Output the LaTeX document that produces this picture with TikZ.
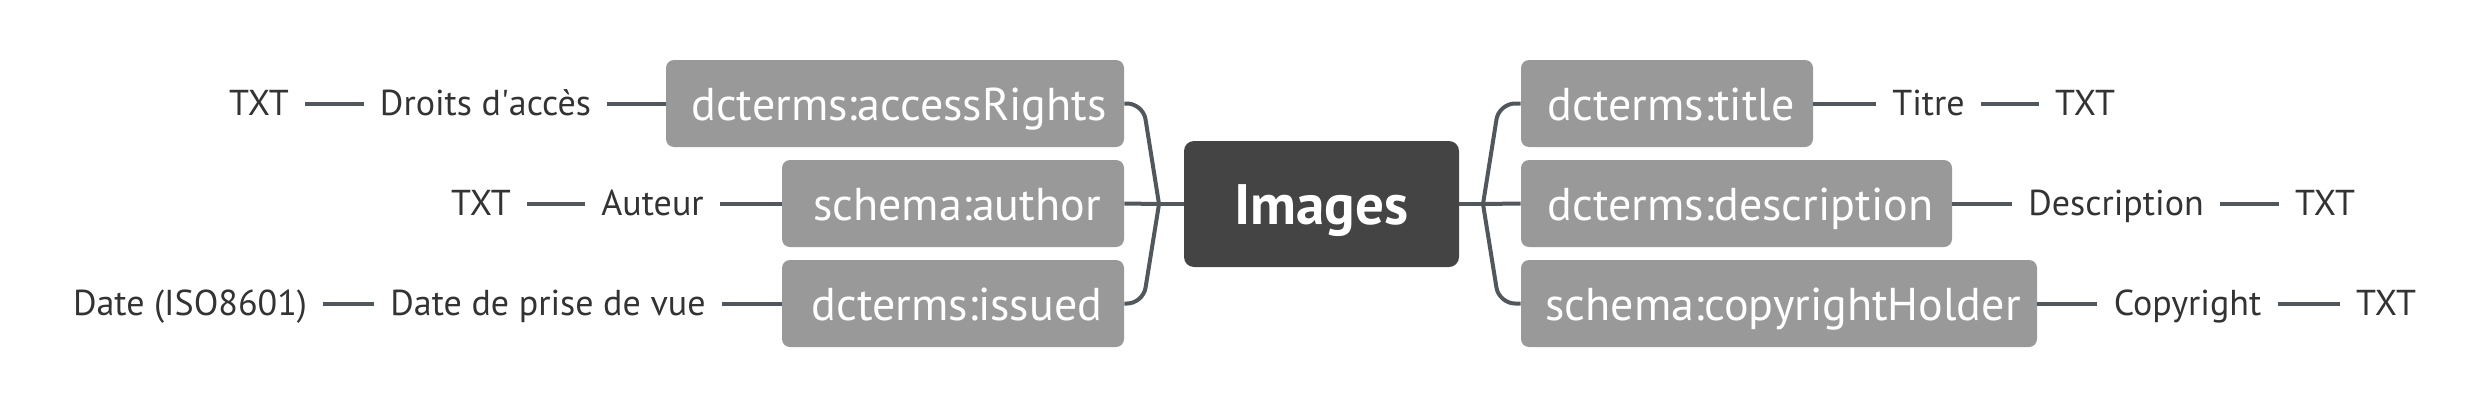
\documentclass[tikz,border=0pt]{standalone}
\usepackage{fontspec}
\setmainfont{PT Sans}
\definecolor{linec}{RGB}{80,88,94}
\definecolor{boxc}{RGB}{153,153,153}
\definecolor{rootc}{RGB}{68,68,68}
\definecolor{leafc}{RGB}{51,51,51}
\begin{document}
\begin{tikzpicture}[x=0.5pt,y=-0.5pt,
  kbox/.style={fill=boxc, rounded corners=4pt, inner sep=0pt, text=white,
    font=\fontsize{23}{23}\selectfont, text height=16.5pt, text depth=0pt,
    minimum height=43.5pt, execute at begin node=\hspace*{4pt}},
  rootbox/.style={fill=rootc, rounded corners=5pt, inner sep=0pt, text=white,
    font=\fontsize{28.5}{28.5}\selectfont\bfseries, text height=20pt, text depth=0pt,
    minimum height=63pt, minimum width=137.5pt},
  leaf/.style={text=leafc, inner xsep=8pt, inner ysep=0pt,
    font=\fontsize{18}{18}\selectfont, text height=12pt, text depth=0pt},
  conn/.style={draw=linec, line width=2pt},
  branch/.style={draw=linec, line width=2pt, rounded corners=8pt}]
\useasboundingbox (0,0) rectangle (2488,408);
% root
\node[rootbox] (root) at (1321.5,204) {Images};
% left boxes
\node[kbox, minimum width=229pt] (acc) at (895,103.5) {dcterms:accessRights};
\node[kbox, minimum width=171pt] (aut) at (953,203.5) {schema:author};
\node[kbox, minimum width=171pt] (iss) at (953,303.5) {dcterms:issued};
% right boxes
\node[kbox, minimum width=146pt] (tit) at (1667,103.5) {dcterms:title};
\node[kbox, minimum width=215.5pt] (des) at (1736.5,203.5) {dcterms:description};
\node[kbox, minimum width=258pt] (cop) at (1779,303.5) {schema:copyrightHolder};
% left leaves
\node[leaf] (droits) at (485.5,103.5) {Droits d\textquotesingle accès};
\node[leaf] (txta) at (259,103.5) {TXT};
\node[leaf] (auteur) at (652.5,203.5) {Auteur};
\node[leaf] (txtb) at (481,203.5) {TXT};
\node[leaf] (prise) at (548,303.5) {Date de prise de vue};
\node[leaf] (iso) at (190,303.5) {Date (ISO8601)};
% right leaves
\node[leaf] (titre) at (1928.5,103.5) {Titre};
\node[leaf] (txtc) at (2085,103.5) {TXT};
\node[leaf] (descr) at (2116,203.5) {Description};
\node[leaf] (txtd) at (2325,203.5) {TXT};
\node[leaf] (copyr) at (2187.5,303.5) {Copyright};
\node[leaf] (txte) at (2386,303.5) {TXT};
% junctions
\coordinate (jl) at (1159,204);
\coordinate (jr) at (1483,204);
\coordinate (cl1) at (1143,103.5);
\coordinate (cl3) at (1143,303.5);
\coordinate (cr1) at (1499,103.5);
\coordinate (cr3) at (1499,303.5);
% root connectors
\draw[conn] (root.west) -- (jl);
\draw[conn] (root.east) -- (jr);
\draw[branch] (jl) -- (cl1) -- (acc.east);
\draw[conn] (jl) -- (aut.east);
\draw[branch] (jl) -- (cl3) -- (iss.east);
\draw[branch] (jr) -- (cr1) -- (tit.west);
\draw[conn] (jr) -- (des.west);
\draw[branch] (jr) -- (cr3) -- (cop.west);
% leaf connectors
\draw[conn] (acc.west) -- (droits.east);
\draw[conn] (droits.west) -- (txta.east);
\draw[conn] (aut.west) -- (auteur.east);
\draw[conn] (auteur.west) -- (txtb.east);
\draw[conn] (iss.west) -- (prise.east);
\draw[conn] (prise.west) -- (iso.east);
\draw[conn] (tit.east) -- (titre.west);
\draw[conn] (titre.east) -- (txtc.west);
\draw[conn] (des.east) -- (descr.west);
\draw[conn] (descr.east) -- (txtd.west);
\draw[conn] (cop.east) -- (copyr.west);
\draw[conn] (copyr.east) -- (txte.west);
\end{tikzpicture}
\end{document}
